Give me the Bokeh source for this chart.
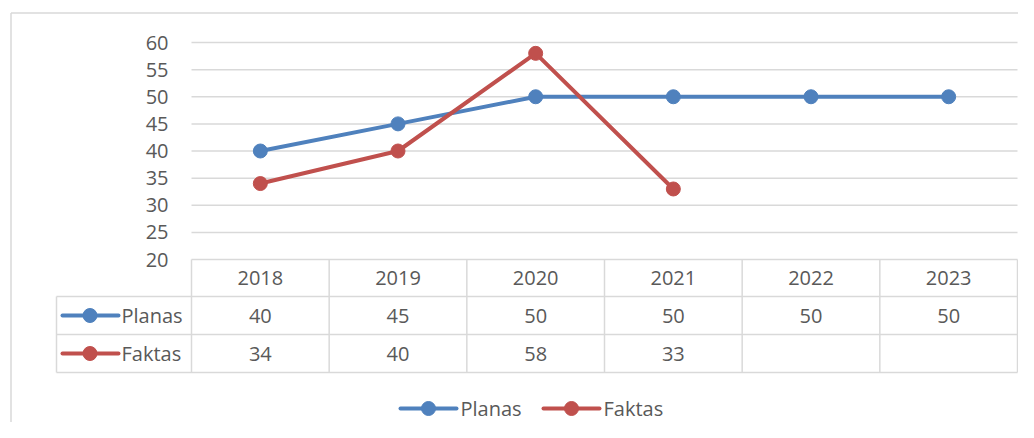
import math
from bokeh.plotting import figure
from bokeh.models import Range1d
from bokeh.core.properties import value
from bokeh.embed import file_html
from bokeh.resources import INLINE

# ---- data ----
years = ["2018", "2019", "2020", "2021", "2022", "2023"]
planas = [40, 45, 50, 50, 50, 50]
faktas = [34, 40, 58, 33, None, None]
y_ticks = [20, 25, 30, 35, 40, 45, 50, 55, 60]
series_names = ["Planas", "Faktas"]
series_colors = ["#4F81BD", "#C0504D"]

# ---- layout (pixel positions in the picture) ----
W, H = 1018, 422
OX, OY = 0, 0
TABLE_L, PLOT_L, PLOT_R = 56, 191, 1017
COL_W = (PLOT_R - PLOT_L) / len(years)
Y_TOP_PX, Y_BOT_PX = 42, 259
Y_MAX, Y_MIN = y_ticks[-1], y_ticks[0]
PPU = (Y_BOT_PX - Y_TOP_PX) / (Y_MAX - Y_MIN)

ROW_LINES = [296, 334, 372]
HEADER_C = 277.5
ROW_C = [315, 353]
LEGEND_Y = 408

FONT = value("Open Sans")
FS = "20px"
TXT = "#595959"
GRID = "#D9D9D9"


def X(px):
    return (px - PLOT_L) / COL_W - 0.5


def Y(py):
    return Y_MAX - (py - Y_TOP_PX) / PPU


p = figure(width=W, height=H,
           x_range=Range1d(X(OX), X(OX + W)),
           y_range=Range1d(Y(OY + H), Y(OY)),
           x_axis_type=None, y_axis_type=None,
           output_backend="svg", toolbar_location=None,
           min_border=0, outline_line_color=None,
           background_fill_color="white", border_fill_color="white")

# chart area border (left & top visible)
p.segment(x0=[X(10.5), X(10.5)], y0=[Y(12.5), Y(12.5)],
          x1=[X(10.5), X(2000)], y1=[Y(2000), Y(12.5)],
          line_color=GRID, line_width=1.5)

# gridlines
p.segment(x0=X(PLOT_L), x1=X(PLOT_R), y0=y_ticks, y1=y_ticks,
          line_color=GRID, line_width=1.5)

# y tick labels
p.text(x=X(168), y=y_ticks, text=[str(t) for t in y_ticks],
       text_align="right", text_baseline="middle",
       text_font=FONT, text_font_size=FS, text_color=TXT)

# data table lines
p.segment(x0=X(TABLE_L), x1=X(PLOT_R), y0=[Y(v) for v in ROW_LINES],
          y1=[Y(v) for v in ROW_LINES], line_color=GRID, line_width=1.5)
col_edges = [i - 0.5 for i in range(len(years) + 1)]
p.segment(x0=col_edges, x1=col_edges, y0=Y(Y_BOT_PX), y1=Y(ROW_LINES[-1]),
          line_color=GRID, line_width=1.5)
p.segment(x0=X(TABLE_L), x1=X(TABLE_L), y0=Y(ROW_LINES[0]), y1=Y(ROW_LINES[-1]),
          line_color=GRID, line_width=1.5)

xs = list(range(len(years)))

# header row
p.text(x=xs, y=Y(HEADER_C), text=years, text_align="center", text_baseline="middle",
       text_font=FONT, text_font_size=FS, text_color=TXT)

series_vals = [planas, faktas]
for r, (name, col, vals) in enumerate(zip(series_names, series_colors, series_vals)):
    yv = [float("nan") if v is None else v for v in vals]
    # chart line + markers
    p.line(xs, yv, line_color=col, line_width=4, line_cap="round", line_join="round")
    p.scatter(xs, yv, marker="circle", size=14, fill_color=col, line_color=col)
    # table row values
    p.text(x=xs, y=Y(ROW_C[r]), text=["" if v is None else str(v) for v in vals],
           text_align="center", text_baseline="middle",
           text_font=FONT, text_font_size=FS, text_color=TXT)
    # table row key
    p.line([X(62), X(118)], [Y(ROW_C[r])] * 2, line_color=col, line_width=4, line_cap="round")
    p.scatter([X(89.5)], [Y(ROW_C[r])], marker="circle", size=14, fill_color=col, line_color=col)
    p.text(x=[X(121)], y=[Y(ROW_C[r])], text=[name], text_align="left", text_baseline="middle",
           text_font=FONT, text_font_size=FS, text_color=TXT)

# bottom legend
leg_x = [(400, 456, 428, 460), (543, 599, 571, 603)]
for (name, col, (a, b, m, t)) in zip(series_names, series_colors, leg_x):
    p.line([X(a), X(b)], [Y(LEGEND_Y)] * 2, line_color=col, line_width=4, line_cap="round")
    p.scatter([X(m)], [Y(LEGEND_Y)], marker="circle", size=14, fill_color=col, line_color=col)
    p.text(x=[X(t)], y=[Y(LEGEND_Y)], text=[name], text_align="left", text_baseline="middle",
           text_font=FONT, text_font_size=FS, text_color=TXT)

open("out.html", "w").write(file_html(p, INLINE))
